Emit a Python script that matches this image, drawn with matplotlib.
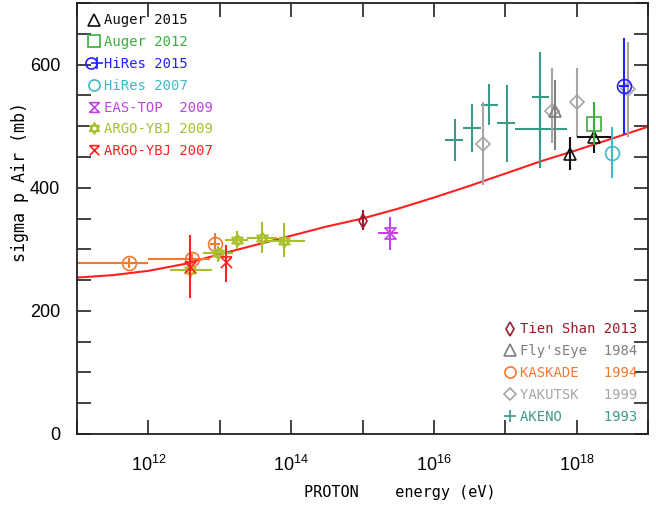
import numpy as np
import matplotlib
matplotlib.use("Agg")
import matplotlib.pyplot as plt
from matplotlib.path import Path
from matplotlib.lines import Line2D
from matplotlib.legend_handler import HandlerTuple

plt.rcParams["font.family"] = ["Liberation Sans", "DejaVu Sans"]
plt.rcParams["mathtext.fontset"] = "custom"
plt.rcParams["mathtext.rm"] = "Liberation Sans"
plt.rcParams["mathtext.it"] = "Liberation Sans:italic"

# model curve (log10 E, sigma in mb)
curve_logE = [11, 11.5, 12, 12.5, 13, 13.5, 14, 14.5, 15, 15.5, 16, 16.5, 17, 17.5, 18, 18.5, 19]
curve_sigma = [254, 258, 265, 276, 292, 307, 322, 337, 350, 366, 384, 403, 423, 443, 461, 480, 499]

# data sets: log10 E, sigma, sigma low, sigma high, logE low, logE high
auger15_logE = [17.91, 18.25]
auger15_sigma = [455, 483]
auger15_lo = [429, 457]
auger15_hi = [482, 507]
auger15_xlo = [17.91, 18.00]
auger15_xhi = [17.91, 18.49]

auger12_logE = [18.24]
auger12_sigma = [503]
auger12_lo = [469]
auger12_hi = [540]

hires15_logE = [18.67]
hires15_sigma = [565]
hires15_lo = [488]
hires15_hi = [643]
hires15_xlo = [18.60]
hires15_xhi = [18.74]

hires07_logE = [18.50]
hires07_sigma = [457]
hires07_lo = [415]
hires07_hi = [499]

eastop_logE = [15.38]
eastop_sigma = [326]
eastop_lo = [299]
eastop_hi = [353]
eastop_xlo = [15.22]
eastop_xhi = [15.50]

argo09_logE = [12.59, 12.98, 13.24, 13.59, 13.90]
argo09_sigma = [267, 294, 315, 319, 314]
argo09_lo = [259, 280, 300, 294, 288]
argo09_hi = [275, 305, 330, 345, 343]
argo09_xlo = [12.30, 12.77, 13.08, 13.38, 13.64]
argo09_xhi = [12.89, 13.19, 13.40, 13.80, 14.20]

argo07_logE = [12.59, 13.09]
argo07_sigma = [272, 280]
argo07_lo = [221, 247]
argo07_hi = [323, 307]

tienshan_logE = [15.00]
tienshan_sigma = [346]
tienshan_lo = [331]
tienshan_hi = [363]

flyseye_logE = [17.70]
flyseye_sigma = [524]
flyseye_lo = [461]
flyseye_hi = [575]

kaskade_logE = [11.73, 12.61, 12.94]
kaskade_sigma = [278, 284, 308]
kaskade_lo = [270, 276, 291]
kaskade_hi = [286, 292, 327]
kaskade_xlo = [10.50, 11.99, 12.87]
kaskade_xhi = [11.99, 12.87, 13.01]

yakutsk_logE = [16.69, 17.66, 18.00, 18.72]
yakutsk_sigma = [471, 524, 539, 560]
yakutsk_lo = [404, 472, 483, 483]
yakutsk_hi = [540, 594, 594, 637]

akeno_logE = [16.29, 16.53, 16.77, 17.02, 17.49, 17.49]
akeno_sigma = [477, 497, 535, 505, 548, 496]
akeno_lo = [444, 458, 502, 442, 475, 432]
akeno_hi = [511, 536, 568, 567, 621, 559]
akeno_xlo = [16.16, 16.41, 16.66, 16.89, 17.37, 17.13]
akeno_xhi = [16.41, 16.66, 16.90, 17.13, 17.61, 17.87]

# colours
c_auger15 = "#111111"
c_auger12 = "#3cae3c"
c_hires15 = "#2222ff"
c_hires07 = "#3fb9c6"
c_eastop = "#c244e0"
c_argo09 = "#a9bf2e"
c_argo07 = "#ff2222"
c_tienshan = "#9a1b2e"
c_flyseye = "#7f7f7f"
c_kaskade = "#f27a2e"
c_yakutsk = "#a6a6a6"
c_akeno = "#3a9a88"

# custom marker shapes
M, L, C = Path.MOVETO, Path.LINETO, Path.CLOSEPOLY
hourglass = Path([(-1, 1), (1, 1), (-1, -1), (1, -1), (0, 0)], [M, L, L, L, C])
star = Path([(0, 1), (0.866, -0.5), (-0.866, -0.5), (0, 0),
             (0, -1), (0.866, 0.5), (-0.866, 0.5), (0, 0)],
            [M, L, L, C, M, L, L, C])
xbar = Path([(-1, 1), (1, 1), (-1, 1), (1, -1), (1, 1), (-1, -1)],
            [M, L, M, L, M, L])

mono = "DejaVu Sans Mono"

fig = plt.figure(figsize=(6.56, 5.07), dpi=100)
ax = fig.add_axes([77 / 656, 1 - 434 / 507, 571 / 656, 431 / 507])


def draw(logE, sigma, lo, hi, color, marker, ms, xlo=None, xhi=None, mew=1.2):
    E = 10.0 ** np.array(logE)
    s = np.array(sigma, dtype=float)
    yerr = [s - np.array(lo), np.array(hi) - s]
    xerr = None
    if xlo is not None:
        xerr = [E - 10.0 ** np.array(xlo), 10.0 ** np.array(xhi) - E]
    ax.errorbar(E, s, yerr=yerr, xerr=xerr, fmt="none", ecolor=color,
                elinewidth=1.5, capsize=0)
    if marker is not None:
        ax.plot(E, s, linestyle="none", marker=marker, ms=ms, mfc="none",
                mec=color, mew=mew)


ax.plot(10.0 ** np.array(curve_logE), curve_sigma, color="#ff2020", lw=1.5)

draw(akeno_logE, akeno_sigma, akeno_lo, akeno_hi, c_akeno, None, 0, akeno_xlo, akeno_xhi)
draw(yakutsk_logE, yakutsk_sigma, yakutsk_lo, yakutsk_hi, c_yakutsk, "D", 7)
draw(flyseye_logE, flyseye_sigma, flyseye_lo, flyseye_hi, c_flyseye, "^", 9)
draw(kaskade_logE, kaskade_sigma, kaskade_lo, kaskade_hi, c_kaskade, "o", 10, kaskade_xlo, kaskade_xhi)
draw(argo09_logE, argo09_sigma, argo09_lo, argo09_hi, c_argo09, star, 9, argo09_xlo, argo09_xhi)
draw(argo07_logE, argo07_sigma, argo07_lo, argo07_hi, c_argo07, xbar, 8)
draw(tienshan_logE, tienshan_sigma, tienshan_lo, tienshan_hi, c_tienshan, "d", 7)
draw(eastop_logE, eastop_sigma, eastop_lo, eastop_hi, c_eastop, hourglass, 8, eastop_xlo, eastop_xhi)
draw(auger15_logE, auger15_sigma, auger15_lo, auger15_hi, c_auger15, "^", 9, auger15_xlo, auger15_xhi)
draw(auger12_logE, auger12_sigma, auger12_lo, auger12_hi, c_auger12, "s", 10)
draw(hires07_logE, hires07_sigma, hires07_lo, hires07_hi, c_hires07, "o", 10)
draw(hires15_logE, hires15_sigma, hires15_lo, hires15_hi, c_hires15, "o", 10, hires15_xlo, hires15_xhi)

ax.set_xscale("log")
ax.set_xlim(1e11, 1e19)
ax.set_ylim(0, 700)

xt = [10.0 ** k for k in range(11, 20)]
ax.set_xticks(xt)
ax.set_xticklabels(["" if k % 2 else r"$10^{%d}$" % k for k in range(11, 20)])
ax.xaxis.set_minor_locator(matplotlib.ticker.NullLocator())
ax.set_yticks(range(0, 701, 50))
ax.set_yticklabels([str(v) if v % 200 == 0 and v < 700 else "" for v in range(0, 701, 50)])
ax.tick_params(direction="in", length=10, width=1.2, top=True, right=True,
               labelsize=13, color="#222222")
ax.tick_params(axis="x", pad=15)
ax.tick_params(axis="y", pad=12)
for sp in ax.spines.values():
    sp.set_linewidth(1.3)
    sp.set_color("#222222")

ax.set_xlabel("PROTON    energy (eV)", family=mono, fontsize=11)
ax.xaxis.set_label_coords(0.566, -0.118)
ax.set_ylabel("sigma p Air (mb)", family=mono, fontsize=12)
ax.yaxis.set_label_coords(-0.084, 0.585)


def h(marker, color, ms):
    return Line2D([], [], linestyle="none", marker=marker, ms=ms, mfc="none",
                  mec=color, mew=1.2)


top_handles = [h("^", c_auger15, 8), h("s", c_auger12, 8),
               (h("o", c_hires15, 8), h("+", c_hires15, 8)),
               h("o", c_hires07, 8), h(hourglass, c_eastop, 7),
               h(star, c_argo09, 8), h(xbar, c_argo07, 7)]
top_labels = ["Auger 2015", "Auger 2012", "HiRes 2015", "HiRes 2007",
              "EAS-TOP  2009", "ARGO-YBJ 2009", "ARGO-YBJ 2007"]
top_colors = [c_auger15, c_auger12, c_hires15, c_hires07, c_eastop, c_argo09, c_argo07]

leg1 = ax.legend(top_handles, top_labels, loc="upper left", frameon=False,
                 prop={"family": mono, "size": 10}, handlelength=0.9,
                 handletextpad=0.3, labelspacing=0.56, borderaxespad=0.35,
                 labelcolor=top_colors,
                 handler_map={tuple: HandlerTuple(ndivide=None, pad=0)})
ax.add_artist(leg1)

bot_handles = [h("d", c_tienshan, 7), h("^", c_flyseye, 8), h("o", c_kaskade, 8),
               h("D", c_yakutsk, 6), h("+", c_akeno, 9)]
bot_labels = ["Tien Shan 2013", "Fly'sEye  1984", "KASKADE   1994",
              "YAKUTSK   1999", "AKENO     1993"]
bot_colors = [c_tienshan, c_flyseye, c_kaskade, c_yakutsk, c_akeno]
ax.legend(bot_handles, bot_labels, loc="lower right", frameon=False,
          prop={"family": mono, "size": 10}, handlelength=0.9,
          handletextpad=0.3, labelspacing=0.56, borderaxespad=0.35,
          labelcolor=bot_colors)

fig.savefig("out.png", dpi=100)
